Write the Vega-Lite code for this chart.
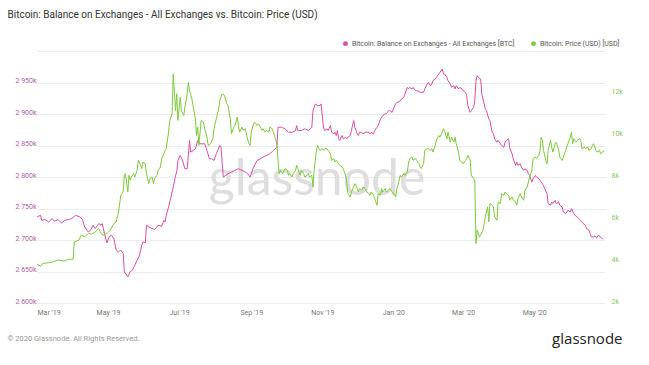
{
  "$schema": "https://vega.github.io/schema/vega-lite/v6.json",
  "width": 568,
  "height": 252,
  "autosize": "none",
  "padding": {"left": 37, "top": 51, "right": 44, "bottom": 62},
  "background": "white",
  "config": {"font": "Roboto", "view": {"stroke": null}},
  "datasets": {
    "bal": [
      {"date": "2019-03-01", "btc": 2736600}, {"date": "2019-03-04", "btc": 2739200}, {"date": "2019-03-05", "btc": 2731300},
      {"date": "2019-03-08", "btc": 2732400}, {"date": "2019-03-11", "btc": 2728600}, {"date": "2019-03-14", "btc": 2734000},
      {"date": "2019-03-16", "btc": 2729700}, {"date": "2019-03-19", "btc": 2732400}, {"date": "2019-03-22", "btc": 2727100},
      {"date": "2019-03-25", "btc": 2731300}, {"date": "2019-03-28", "btc": 2732400}, {"date": "2019-03-31", "btc": 2734000},
      {"date": "2019-04-03", "btc": 2739200}, {"date": "2019-04-07", "btc": 2736600}, {"date": "2019-04-09", "btc": 2732400},
      {"date": "2019-04-11", "btc": 2720700}, {"date": "2019-04-14", "btc": 2712800}, {"date": "2019-04-16", "btc": 2715500},
      {"date": "2019-04-18", "btc": 2723400}, {"date": "2019-04-20", "btc": 2718200}, {"date": "2019-04-23", "btc": 2726100},
      {"date": "2019-04-25", "btc": 2723400}, {"date": "2019-04-26", "btc": 2726100}, {"date": "2019-04-28", "btc": 2710300},
      {"date": "2019-04-30", "btc": 2695400}, {"date": "2019-05-02", "btc": 2704900}, {"date": "2019-05-04", "btc": 2707600},
      {"date": "2019-05-06", "btc": 2702400}, {"date": "2019-05-08", "btc": 2683900}, {"date": "2019-05-10", "btc": 2681200},
      {"date": "2019-05-12", "btc": 2683900}, {"date": "2019-05-14", "btc": 2678600}, {"date": "2019-05-15", "btc": 2649500},
      {"date": "2019-05-17", "btc": 2644300}, {"date": "2019-05-18", "btc": 2641600}, {"date": "2019-05-20", "btc": 2649500},
      {"date": "2019-05-22", "btc": 2652200}, {"date": "2019-05-24", "btc": 2660100}, {"date": "2019-05-26", "btc": 2668000},
      {"date": "2019-05-28", "btc": 2675900}, {"date": "2019-05-30", "btc": 2691800}, {"date": "2019-05-31", "btc": 2697000},
      {"date": "2019-06-02", "btc": 2695400}, {"date": "2019-06-03", "btc": 2723400}, {"date": "2019-06-05", "btc": 2720700},
      {"date": "2019-06-08", "btc": 2718200}, {"date": "2019-06-10", "btc": 2716600}, {"date": "2019-06-13", "btc": 2723400},
      {"date": "2019-06-16", "btc": 2721800}, {"date": "2019-06-18", "btc": 2731300}, {"date": "2019-06-19", "btc": 2728600},
      {"date": "2019-06-20", "btc": 2739200}, {"date": "2019-06-22", "btc": 2752400}, {"date": "2019-06-24", "btc": 2768200},
      {"date": "2019-06-26", "btc": 2784000}, {"date": "2019-06-28", "btc": 2802500}, {"date": "2019-06-29", "btc": 2807800},
      {"date": "2019-06-30", "btc": 2826300}, {"date": "2019-07-02", "btc": 2834200}, {"date": "2019-07-04", "btc": 2826300},
      {"date": "2019-07-06", "btc": 2813100}, {"date": "2019-07-08", "btc": 2813100}, {"date": "2019-07-10", "btc": 2857900},
      {"date": "2019-07-11", "btc": 2839400}, {"date": "2019-07-13", "btc": 2842100}, {"date": "2019-07-15", "btc": 2844800},
      {"date": "2019-07-17", "btc": 2857900}, {"date": "2019-07-19", "btc": 2852700}, {"date": "2019-07-21", "btc": 2852700},
      {"date": "2019-07-23", "btc": 2852700}, {"date": "2019-07-25", "btc": 2842100}, {"date": "2019-07-27", "btc": 2829000},
      {"date": "2019-07-29", "btc": 2829000}, {"date": "2019-07-31", "btc": 2826300}, {"date": "2019-08-02", "btc": 2836900},
      {"date": "2019-08-05", "btc": 2850000}, {"date": "2019-08-06", "btc": 2847300}, {"date": "2019-08-08", "btc": 2799800},
      {"date": "2019-08-10", "btc": 2802500}, {"date": "2019-08-12", "btc": 2805200}, {"date": "2019-08-15", "btc": 2807800},
      {"date": "2019-08-18", "btc": 2810400}, {"date": "2019-08-21", "btc": 2813100}, {"date": "2019-08-24", "btc": 2810400},
      {"date": "2019-08-27", "btc": 2807800}, {"date": "2019-08-29", "btc": 2805200}, {"date": "2019-08-31", "btc": 2799800},
      {"date": "2019-09-01", "btc": 2805200}, {"date": "2019-09-03", "btc": 2815700}, {"date": "2019-09-06", "btc": 2826300},
      {"date": "2019-09-09", "btc": 2829000}, {"date": "2019-09-11", "btc": 2831500}, {"date": "2019-09-14", "btc": 2834200},
      {"date": "2019-09-17", "btc": 2836900}, {"date": "2019-09-20", "btc": 2842100}, {"date": "2019-09-23", "btc": 2847300},
      {"date": "2019-09-24", "btc": 2879000}, {"date": "2019-09-27", "btc": 2879000}, {"date": "2019-09-30", "btc": 2876400},
      {"date": "2019-10-03", "btc": 2871000}, {"date": "2019-10-06", "btc": 2871000}, {"date": "2019-10-09", "btc": 2873700},
      {"date": "2019-10-10", "btc": 2881600}, {"date": "2019-10-11", "btc": 2873700}, {"date": "2019-10-14", "btc": 2873700},
      {"date": "2019-10-17", "btc": 2876400}, {"date": "2019-10-20", "btc": 2873700}, {"date": "2019-10-23", "btc": 2879000},
      {"date": "2019-10-24", "btc": 2905400}, {"date": "2019-10-26", "btc": 2916000}, {"date": "2019-10-28", "btc": 2913300},
      {"date": "2019-10-30", "btc": 2913300}, {"date": "2019-10-31", "btc": 2916000}, {"date": "2019-11-02", "btc": 2879000},
      {"date": "2019-11-03", "btc": 2873700}, {"date": "2019-11-05", "btc": 2876400}, {"date": "2019-11-06", "btc": 2873700},
      {"date": "2019-11-08", "btc": 2881600}, {"date": "2019-11-09", "btc": 2871000}, {"date": "2019-11-11", "btc": 2868500},
      {"date": "2019-11-12", "btc": 2871000}, {"date": "2019-11-13", "btc": 2865800}, {"date": "2019-11-14", "btc": 2873700},
      {"date": "2019-11-15", "btc": 2860600}, {"date": "2019-11-16", "btc": 2857900}, {"date": "2019-11-18", "btc": 2865800},
      {"date": "2019-11-19", "btc": 2860600}, {"date": "2019-11-21", "btc": 2863100}, {"date": "2019-11-22", "btc": 2860600},
      {"date": "2019-11-23", "btc": 2863100}, {"date": "2019-11-25", "btc": 2865800}, {"date": "2019-11-26", "btc": 2873700},
      {"date": "2019-11-28", "btc": 2889600}, {"date": "2019-11-29", "btc": 2879000}, {"date": "2019-12-01", "btc": 2868500},
      {"date": "2019-12-02", "btc": 2865800}, {"date": "2019-12-03", "btc": 2871000}, {"date": "2019-12-05", "btc": 2871000},
      {"date": "2019-12-06", "btc": 2868500}, {"date": "2019-12-08", "btc": 2871000}, {"date": "2019-12-11", "btc": 2871000},
      {"date": "2019-12-12", "btc": 2868500}, {"date": "2019-12-13", "btc": 2871000}, {"date": "2019-12-15", "btc": 2868500},
      {"date": "2019-12-16", "btc": 2873700}, {"date": "2019-12-18", "btc": 2879000}, {"date": "2019-12-19", "btc": 2881600},
      {"date": "2019-12-21", "btc": 2892200}, {"date": "2019-12-22", "btc": 2894800}, {"date": "2019-12-23", "btc": 2897500},
      {"date": "2019-12-25", "btc": 2900200}, {"date": "2019-12-26", "btc": 2900200}, {"date": "2019-12-28", "btc": 2905400},
      {"date": "2019-12-29", "btc": 2905400}, {"date": "2019-12-31", "btc": 2902700}, {"date": "2020-01-01", "btc": 2908100},
      {"date": "2020-01-03", "btc": 2916000}, {"date": "2020-01-04", "btc": 2918500}, {"date": "2020-01-05", "btc": 2918500},
      {"date": "2020-01-07", "btc": 2921200}, {"date": "2020-01-08", "btc": 2923900}, {"date": "2020-01-10", "btc": 2926400},
      {"date": "2020-01-11", "btc": 2931800}, {"date": "2020-01-13", "btc": 2942300}, {"date": "2020-01-14", "btc": 2939700},
      {"date": "2020-01-15", "btc": 2942300}, {"date": "2020-01-17", "btc": 2939700}, {"date": "2020-01-18", "btc": 2942300},
      {"date": "2020-01-20", "btc": 2937000}, {"date": "2020-01-21", "btc": 2937000}, {"date": "2020-01-23", "btc": 2935900},
      {"date": "2020-01-24", "btc": 2934300}, {"date": "2020-01-25", "btc": 2934300}, {"date": "2020-01-27", "btc": 2934300},
      {"date": "2020-01-28", "btc": 2939700}, {"date": "2020-01-30", "btc": 2947600}, {"date": "2020-01-31", "btc": 2950200},
      {"date": "2020-02-02", "btc": 2944900}, {"date": "2020-02-03", "btc": 2947600}, {"date": "2020-02-04", "btc": 2952800},
      {"date": "2020-02-06", "btc": 2955500}, {"date": "2020-02-07", "btc": 2958100}, {"date": "2020-02-09", "btc": 2963400},
      {"date": "2020-02-10", "btc": 2966000}, {"date": "2020-02-12", "btc": 2971400}, {"date": "2020-02-13", "btc": 2963400},
      {"date": "2020-02-14", "btc": 2963400}, {"date": "2020-02-16", "btc": 2958100}, {"date": "2020-02-17", "btc": 2952800},
      {"date": "2020-02-19", "btc": 2947600}, {"date": "2020-02-20", "btc": 2942300}, {"date": "2020-02-22", "btc": 2944900},
      {"date": "2020-02-23", "btc": 2939700}, {"date": "2020-02-24", "btc": 2944900}, {"date": "2020-02-26", "btc": 2939700},
      {"date": "2020-02-27", "btc": 2942300}, {"date": "2020-02-29", "btc": 2939700}, {"date": "2020-03-01", "btc": 2937000},
      {"date": "2020-03-03", "btc": 2934300}, {"date": "2020-03-04", "btc": 2929100}, {"date": "2020-03-05", "btc": 2913300},
      {"date": "2020-03-07", "btc": 2902700}, {"date": "2020-03-08", "btc": 2905400}, {"date": "2020-03-10", "btc": 2910600},
      {"date": "2020-03-11", "btc": 2921200}, {"date": "2020-03-12", "btc": 2952800}, {"date": "2020-03-13", "btc": 2960800},
      {"date": "2020-03-14", "btc": 2958100}, {"date": "2020-03-16", "btc": 2955500}, {"date": "2020-03-17", "btc": 2931800},
      {"date": "2020-03-18", "btc": 2923900}, {"date": "2020-03-20", "btc": 2908100}, {"date": "2020-03-21", "btc": 2905400},
      {"date": "2020-03-23", "btc": 2892200}, {"date": "2020-03-24", "btc": 2889600}, {"date": "2020-03-25", "btc": 2879000},
      {"date": "2020-03-26", "btc": 2871000}, {"date": "2020-03-27", "btc": 2868500}, {"date": "2020-03-28", "btc": 2860600},
      {"date": "2020-03-30", "btc": 2855200}, {"date": "2020-03-31", "btc": 2857900}, {"date": "2020-04-02", "btc": 2852700},
      {"date": "2020-04-03", "btc": 2850000}, {"date": "2020-04-05", "btc": 2847300}, {"date": "2020-04-06", "btc": 2855200},
      {"date": "2020-04-07", "btc": 2857900}, {"date": "2020-04-09", "btc": 2860600}, {"date": "2020-04-10", "btc": 2846000},
      {"date": "2020-04-12", "btc": 2836900}, {"date": "2020-04-13", "btc": 2829000}, {"date": "2020-04-15", "btc": 2818400},
      {"date": "2020-04-16", "btc": 2823600}, {"date": "2020-04-17", "btc": 2818400}, {"date": "2020-04-19", "btc": 2821000},
      {"date": "2020-04-20", "btc": 2815700}, {"date": "2020-04-22", "btc": 2810400}, {"date": "2020-04-23", "btc": 2813100},
      {"date": "2020-04-25", "btc": 2810400}, {"date": "2020-04-26", "btc": 2805200}, {"date": "2020-04-27", "btc": 2802500},
      {"date": "2020-04-29", "btc": 2791900}, {"date": "2020-04-30", "btc": 2797300}, {"date": "2020-05-02", "btc": 2802500},
      {"date": "2020-05-03", "btc": 2799800}, {"date": "2020-05-05", "btc": 2797300}, {"date": "2020-05-06", "btc": 2794600},
      {"date": "2020-05-07", "btc": 2791900}, {"date": "2020-05-09", "btc": 2786700}, {"date": "2020-05-10", "btc": 2781500},
      {"date": "2020-05-12", "btc": 2773600}, {"date": "2020-05-13", "btc": 2757800}, {"date": "2020-05-15", "btc": 2755100},
      {"date": "2020-05-16", "btc": 2760300}, {"date": "2020-05-17", "btc": 2757800}, {"date": "2020-05-19", "btc": 2763000},
      {"date": "2020-05-20", "btc": 2757800}, {"date": "2020-05-22", "btc": 2760300}, {"date": "2020-05-23", "btc": 2755100},
      {"date": "2020-05-25", "btc": 2752400}, {"date": "2020-05-26", "btc": 2744500}, {"date": "2020-05-28", "btc": 2741900},
      {"date": "2020-05-29", "btc": 2744500}, {"date": "2020-05-30", "btc": 2747200}, {"date": "2020-06-01", "btc": 2744500},
      {"date": "2020-06-02", "btc": 2749800}, {"date": "2020-06-04", "btc": 2741900}, {"date": "2020-06-05", "btc": 2739200},
      {"date": "2020-06-07", "btc": 2736600}, {"date": "2020-06-08", "btc": 2734000}, {"date": "2020-06-09", "btc": 2731300},
      {"date": "2020-06-11", "btc": 2728600}, {"date": "2020-06-12", "btc": 2726100}, {"date": "2020-06-14", "btc": 2723400},
      {"date": "2020-06-15", "btc": 2718200}, {"date": "2020-06-17", "btc": 2715500}, {"date": "2020-06-18", "btc": 2710300},
      {"date": "2020-06-19", "btc": 2704900}, {"date": "2020-06-21", "btc": 2704900}, {"date": "2020-06-22", "btc": 2706000},
      {"date": "2020-06-24", "btc": 2704000}, {"date": "2020-06-25", "btc": 2707600}, {"date": "2020-06-27", "btc": 2704900},
      {"date": "2020-06-28", "btc": 2702400}, {"date": "2020-06-29", "btc": 2701300}
    ],
    "px": [
      {"date": "2019-03-01", "usd": 3852}, {"date": "2019-03-04", "usd": 3758}, {"date": "2019-03-06", "usd": 3886},
      {"date": "2019-03-11", "usd": 3914}, {"date": "2019-03-15", "usd": 3962}, {"date": "2019-03-19", "usd": 4043},
      {"date": "2019-03-24", "usd": 3995}, {"date": "2019-03-28", "usd": 4076}, {"date": "2019-04-01", "usd": 4090},
      {"date": "2019-04-02", "usd": 4912}, {"date": "2019-04-06", "usd": 4993}, {"date": "2019-04-08", "usd": 5230},
      {"date": "2019-04-11", "usd": 5149}, {"date": "2019-04-14", "usd": 5311}, {"date": "2019-04-17", "usd": 5278},
      {"date": "2019-04-20", "usd": 5387}, {"date": "2019-04-23", "usd": 5548}, {"date": "2019-04-25", "usd": 5311},
      {"date": "2019-04-27", "usd": 5230}, {"date": "2019-04-30", "usd": 5311}, {"date": "2019-05-03", "usd": 5468},
      {"date": "2019-05-06", "usd": 5786}, {"date": "2019-05-08", "usd": 5862}, {"date": "2019-05-10", "usd": 6337},
      {"date": "2019-05-12", "usd": 7130}, {"date": "2019-05-14", "usd": 7287}, {"date": "2019-05-15", "usd": 8080},
      {"date": "2019-05-16", "usd": 8161}, {"date": "2019-05-18", "usd": 7287}, {"date": "2019-05-19", "usd": 8080},
      {"date": "2019-05-20", "usd": 7843}, {"date": "2019-05-21", "usd": 7999}, {"date": "2019-05-23", "usd": 8161},
      {"date": "2019-05-24", "usd": 7999}, {"date": "2019-05-26", "usd": 8318}, {"date": "2019-05-27", "usd": 8793},
      {"date": "2019-05-29", "usd": 8555}, {"date": "2019-05-30", "usd": 8398}, {"date": "2019-05-31", "usd": 8712},
      {"date": "2019-06-02", "usd": 8636}, {"date": "2019-06-03", "usd": 8161}, {"date": "2019-06-05", "usd": 7686},
      {"date": "2019-06-06", "usd": 7923}, {"date": "2019-06-08", "usd": 7999}, {"date": "2019-06-09", "usd": 7686},
      {"date": "2019-06-10", "usd": 7923}, {"date": "2019-06-12", "usd": 8080}, {"date": "2019-06-13", "usd": 8318},
      {"date": "2019-06-15", "usd": 8474}, {"date": "2019-06-16", "usd": 8873}, {"date": "2019-06-18", "usd": 9111},
      {"date": "2019-06-19", "usd": 9268}, {"date": "2019-06-20", "usd": 9348}, {"date": "2019-06-22", "usd": 10137},
      {"date": "2019-06-23", "usd": 10693}, {"date": "2019-06-25", "usd": 11011}, {"date": "2019-06-26", "usd": 12911},
      {"date": "2019-06-28", "usd": 11168}, {"date": "2019-06-29", "usd": 11961}, {"date": "2019-06-30", "usd": 10693},
      {"date": "2019-07-02", "usd": 11799}, {"date": "2019-07-03", "usd": 11168}, {"date": "2019-07-05", "usd": 10930},
      {"date": "2019-07-06", "usd": 11324}, {"date": "2019-07-08", "usd": 11961}, {"date": "2019-07-09", "usd": 12512},
      {"date": "2019-07-10", "usd": 12118}, {"date": "2019-07-12", "usd": 11723}, {"date": "2019-07-13", "usd": 11405},
      {"date": "2019-07-15", "usd": 10773}, {"date": "2019-07-16", "usd": 9980}, {"date": "2019-07-17", "usd": 10374},
      {"date": "2019-07-18", "usd": 9505}, {"date": "2019-07-20", "usd": 10693}, {"date": "2019-07-22", "usd": 10612},
      {"date": "2019-07-23", "usd": 10298}, {"date": "2019-07-25", "usd": 9899}, {"date": "2019-07-26", "usd": 9505},
      {"date": "2019-07-28", "usd": 9586}, {"date": "2019-07-30", "usd": 9823}, {"date": "2019-07-31", "usd": 10298},
      {"date": "2019-08-02", "usd": 10773}, {"date": "2019-08-04", "usd": 11248}, {"date": "2019-08-05", "usd": 11643},
      {"date": "2019-08-07", "usd": 11961}, {"date": "2019-08-09", "usd": 11880}, {"date": "2019-08-11", "usd": 11486},
      {"date": "2019-08-12", "usd": 11405}, {"date": "2019-08-14", "usd": 10773}, {"date": "2019-08-15", "usd": 10061},
      {"date": "2019-08-17", "usd": 10374}, {"date": "2019-08-18", "usd": 10455}, {"date": "2019-08-20", "usd": 10849},
      {"date": "2019-08-21", "usd": 10455}, {"date": "2019-08-22", "usd": 10137}, {"date": "2019-08-24", "usd": 10374},
      {"date": "2019-08-25", "usd": 10218}, {"date": "2019-08-27", "usd": 10298}, {"date": "2019-08-28", "usd": 9980},
      {"date": "2019-08-30", "usd": 9586}, {"date": "2019-08-31", "usd": 9505}, {"date": "2019-09-01", "usd": 10137},
      {"date": "2019-09-03", "usd": 10536}, {"date": "2019-09-04", "usd": 10612}, {"date": "2019-09-06", "usd": 10455},
      {"date": "2019-09-07", "usd": 10536}, {"date": "2019-09-09", "usd": 10374}, {"date": "2019-09-10", "usd": 10218},
      {"date": "2019-09-11", "usd": 10298}, {"date": "2019-09-13", "usd": 10137}, {"date": "2019-09-14", "usd": 10218},
      {"date": "2019-09-16", "usd": 10137}, {"date": "2019-09-17", "usd": 10374}, {"date": "2019-09-19", "usd": 10298},
      {"date": "2019-09-20", "usd": 10137}, {"date": "2019-09-21", "usd": 9980}, {"date": "2019-09-23", "usd": 9586},
      {"date": "2019-09-24", "usd": 8793}, {"date": "2019-09-25", "usd": 8161}, {"date": "2019-09-26", "usd": 8318},
      {"date": "2019-09-28", "usd": 8161}, {"date": "2019-09-30", "usd": 8398}, {"date": "2019-10-02", "usd": 8318},
      {"date": "2019-10-03", "usd": 8080}, {"date": "2019-10-04", "usd": 8161}, {"date": "2019-10-06", "usd": 7999},
      {"date": "2019-10-07", "usd": 8161}, {"date": "2019-10-09", "usd": 8318}, {"date": "2019-10-10", "usd": 8555},
      {"date": "2019-10-11", "usd": 8398}, {"date": "2019-10-13", "usd": 8080}, {"date": "2019-10-14", "usd": 8318},
      {"date": "2019-10-16", "usd": 8161}, {"date": "2019-10-17", "usd": 7999}, {"date": "2019-10-19", "usd": 8080},
      {"date": "2019-10-20", "usd": 8161}, {"date": "2019-10-21", "usd": 7999}, {"date": "2019-10-23", "usd": 8080},
      {"date": "2019-10-24", "usd": 7524}, {"date": "2019-10-25", "usd": 8318}, {"date": "2019-10-27", "usd": 9268},
      {"date": "2019-10-28", "usd": 9505}, {"date": "2019-10-29", "usd": 9348}, {"date": "2019-10-30", "usd": 9268},
      {"date": "2019-11-01", "usd": 9348}, {"date": "2019-11-02", "usd": 9268}, {"date": "2019-11-03", "usd": 9348},
      {"date": "2019-11-05", "usd": 9348}, {"date": "2019-11-06", "usd": 9268}, {"date": "2019-11-08", "usd": 9111},
      {"date": "2019-11-09", "usd": 8793}, {"date": "2019-11-11", "usd": 8873}, {"date": "2019-11-12", "usd": 8712},
      {"date": "2019-11-13", "usd": 8793}, {"date": "2019-11-15", "usd": 8636}, {"date": "2019-11-16", "usd": 8555},
      {"date": "2019-11-18", "usd": 8474}, {"date": "2019-11-19", "usd": 8398}, {"date": "2019-11-21", "usd": 8080},
      {"date": "2019-11-22", "usd": 7762}, {"date": "2019-11-23", "usd": 7211}, {"date": "2019-11-25", "usd": 7049},
      {"date": "2019-11-26", "usd": 7287}, {"date": "2019-11-28", "usd": 7524}, {"date": "2019-11-29", "usd": 7686},
      {"date": "2019-12-01", "usd": 7448}, {"date": "2019-12-02", "usd": 7287}, {"date": "2019-12-03", "usd": 7448},
      {"date": "2019-12-05", "usd": 7368}, {"date": "2019-12-06", "usd": 7524}, {"date": "2019-12-08", "usd": 7448},
      {"date": "2019-12-09", "usd": 7287}, {"date": "2019-12-11", "usd": 7211}, {"date": "2019-12-12", "usd": 7130},
      {"date": "2019-12-13", "usd": 7287}, {"date": "2019-12-15", "usd": 7130}, {"date": "2019-12-16", "usd": 6973},
      {"date": "2019-12-18", "usd": 6655}, {"date": "2019-12-19", "usd": 7211}, {"date": "2019-12-21", "usd": 7130},
      {"date": "2019-12-22", "usd": 7448}, {"date": "2019-12-23", "usd": 7287}, {"date": "2019-12-25", "usd": 7448},
      {"date": "2019-12-26", "usd": 7287}, {"date": "2019-12-28", "usd": 7368}, {"date": "2019-12-29", "usd": 7448},
      {"date": "2019-12-31", "usd": 7287}, {"date": "2020-01-01", "usd": 7211}, {"date": "2020-01-03", "usd": 7049},
      {"date": "2020-01-04", "usd": 7448}, {"date": "2020-01-05", "usd": 7605}, {"date": "2020-01-07", "usd": 8080},
      {"date": "2020-01-08", "usd": 7999}, {"date": "2020-01-10", "usd": 8161}, {"date": "2020-01-11", "usd": 8080},
      {"date": "2020-01-13", "usd": 8237}, {"date": "2020-01-14", "usd": 8636}, {"date": "2020-01-15", "usd": 8873},
      {"date": "2020-01-17", "usd": 8949}, {"date": "2020-01-18", "usd": 8793}, {"date": "2020-01-20", "usd": 8873},
      {"date": "2020-01-21", "usd": 8793}, {"date": "2020-01-23", "usd": 8636}, {"date": "2020-01-24", "usd": 8474},
      {"date": "2020-01-25", "usd": 8398}, {"date": "2020-01-27", "usd": 8636}, {"date": "2020-01-28", "usd": 9268},
      {"date": "2020-01-30", "usd": 9348}, {"date": "2020-01-31", "usd": 9348}, {"date": "2020-02-02", "usd": 9268},
      {"date": "2020-02-03", "usd": 9348}, {"date": "2020-02-04", "usd": 9187}, {"date": "2020-02-06", "usd": 9505},
      {"date": "2020-02-07", "usd": 9743}, {"date": "2020-02-09", "usd": 9980}, {"date": "2020-02-10", "usd": 9899},
      {"date": "2020-02-12", "usd": 10137}, {"date": "2020-02-13", "usd": 10298}, {"date": "2020-02-14", "usd": 10218},
      {"date": "2020-02-16", "usd": 9823}, {"date": "2020-02-17", "usd": 10137}, {"date": "2020-02-19", "usd": 9662},
      {"date": "2020-02-20", "usd": 9899}, {"date": "2020-02-22", "usd": 9662}, {"date": "2020-02-23", "usd": 9899},
      {"date": "2020-02-24", "usd": 9586}, {"date": "2020-02-26", "usd": 9187}, {"date": "2020-02-27", "usd": 8793},
      {"date": "2020-02-29", "usd": 8712}, {"date": "2020-03-01", "usd": 8636}, {"date": "2020-03-03", "usd": 8793},
      {"date": "2020-03-04", "usd": 8873}, {"date": "2020-03-05", "usd": 9030}, {"date": "2020-03-07", "usd": 8793},
      {"date": "2020-03-08", "usd": 8080}, {"date": "2020-03-10", "usd": 7923}, {"date": "2020-03-11", "usd": 7843},
      {"date": "2020-03-12", "usd": 4836}, {"date": "2020-03-13", "usd": 5468}, {"date": "2020-03-15", "usd": 5149},
      {"date": "2020-03-16", "usd": 5230}, {"date": "2020-03-18", "usd": 5468}, {"date": "2020-03-19", "usd": 5786},
      {"date": "2020-03-20", "usd": 6099}, {"date": "2020-03-22", "usd": 6574}, {"date": "2020-03-23", "usd": 5862},
      {"date": "2020-03-24", "usd": 6736}, {"date": "2020-03-26", "usd": 6655}, {"date": "2020-03-27", "usd": 6574},
      {"date": "2020-03-28", "usd": 6099}, {"date": "2020-03-30", "usd": 5943}, {"date": "2020-03-31", "usd": 6812},
      {"date": "2020-04-02", "usd": 6736}, {"date": "2020-04-03", "usd": 7211}, {"date": "2020-04-05", "usd": 7130},
      {"date": "2020-04-06", "usd": 7287}, {"date": "2020-04-07", "usd": 7211}, {"date": "2020-04-09", "usd": 7130},
      {"date": "2020-04-10", "usd": 6893}, {"date": "2020-04-12", "usd": 7049}, {"date": "2020-04-13", "usd": 6893},
      {"date": "2020-04-15", "usd": 6812}, {"date": "2020-04-16", "usd": 6655}, {"date": "2020-04-17", "usd": 6973},
      {"date": "2020-04-19", "usd": 7211}, {"date": "2020-04-20", "usd": 7049}, {"date": "2020-04-22", "usd": 6893},
      {"date": "2020-04-23", "usd": 7368}, {"date": "2020-04-25", "usd": 7524}, {"date": "2020-04-26", "usd": 7762},
      {"date": "2020-04-27", "usd": 7999}, {"date": "2020-04-29", "usd": 8318}, {"date": "2020-04-30", "usd": 8873},
      {"date": "2020-05-02", "usd": 8949}, {"date": "2020-05-03", "usd": 8873}, {"date": "2020-05-05", "usd": 9030},
      {"date": "2020-05-06", "usd": 9268}, {"date": "2020-05-07", "usd": 9899}, {"date": "2020-05-08", "usd": 9743},
      {"date": "2020-05-09", "usd": 9268}, {"date": "2020-05-11", "usd": 8793}, {"date": "2020-05-12", "usd": 8636},
      {"date": "2020-05-13", "usd": 9268}, {"date": "2020-05-15", "usd": 9743}, {"date": "2020-05-16", "usd": 9424},
      {"date": "2020-05-17", "usd": 9187}, {"date": "2020-05-19", "usd": 9586}, {"date": "2020-05-20", "usd": 9662},
      {"date": "2020-05-22", "usd": 9268}, {"date": "2020-05-23", "usd": 8949}, {"date": "2020-05-25", "usd": 8793},
      {"date": "2020-05-26", "usd": 8949}, {"date": "2020-05-28", "usd": 9268}, {"date": "2020-05-29", "usd": 9424},
      {"date": "2020-05-30", "usd": 9586}, {"date": "2020-06-01", "usd": 9899}, {"date": "2020-06-02", "usd": 10137},
      {"date": "2020-06-03", "usd": 9586}, {"date": "2020-06-04", "usd": 9823}, {"date": "2020-06-06", "usd": 9662},
      {"date": "2020-06-07", "usd": 9743}, {"date": "2020-06-09", "usd": 9823}, {"date": "2020-06-10", "usd": 9743},
      {"date": "2020-06-11", "usd": 9348}, {"date": "2020-06-13", "usd": 9424}, {"date": "2020-06-14", "usd": 9348},
      {"date": "2020-06-16", "usd": 9424}, {"date": "2020-06-17", "usd": 9268}, {"date": "2020-06-19", "usd": 9348},
      {"date": "2020-06-20", "usd": 9505}, {"date": "2020-06-21", "usd": 9586}, {"date": "2020-06-23", "usd": 9268},
      {"date": "2020-06-24", "usd": 9187}, {"date": "2020-06-26", "usd": 9268}, {"date": "2020-06-27", "usd": 9111},
      {"date": "2020-06-29", "usd": 9187}, {"date": "2020-06-30", "usd": 9268}
    ]
  },
  "layer": [
    {
      "data": {"values": [{}]},
      "mark": {"type": "text", "fontSize": 50, "font": "Lato", "color": "#dedede", "align": "center", "baseline": "alphabetic"},
      "encoding": {
        "x": {"datum": {"year": 2019, "month": 10, "date": 27, "hours": 14, "utc": true}, "type": "temporal", "axis": null,
              "scale": {"type": "utc", "domain": [{"year": 2019, "month": 3, "date": 1, "utc": true}, {"year": 2020, "month": 6, "date": 30, "hours": 19, "utc": true}]}},
        "y": {"datum": 2772000, "type": "quantitative", "axis": null, "scale": {"domain": [2600000, 3000000], "nice": false, "zero": false}},
        "text": {"value": "glassnode"}
      }
    },
    {
      "data": {"name": "bal"},
      "mark": {"type": "line", "strokeWidth": 1, "clip": true},
      "encoding": {
        "x": {"field": "date", "type": "temporal",
              "scale": {"type": "utc", "domain": [{"year": 2019, "month": 3, "date": 1, "utc": true}, {"year": 2020, "month": 6, "date": 30, "hours": 19, "utc": true}]},
              "axis": {"orient": "bottom",
                       "values": [{"year": 2019, "month": 3, "date": 1, "utc": true}, {"year": 2019, "month": 5, "date": 1, "utc": true}, {"year": 2019, "month": 7, "date": 1, "utc": true}, {"year": 2019, "month": 9, "date": 1, "utc": true}, {"year": 2019, "month": 11, "date": 1, "utc": true}, {"year": 2020, "month": 1, "date": 1, "utc": true}, {"year": 2020, "month": 3, "date": 1, "utc": true}, {"year": 2020, "month": 5, "date": 1, "utc": true}],
                       "labelExpr": "utcFormat(datum.value, \"%b '%y\")",
                       "grid": false, "domain": false, "ticks": false, "labelFlush": 5, "labelPadding": 5,
                       "labelFontSize": 7, "labelColor": "#777777", "labelFont": "Roboto",
                       "title": "© 2020 Glassnode. All Rights Reserved.", "titleX": -30, "titleY": 35, "titleAlign": "left", "titleAnchor": null,
                       "titleBaseline": "middle", "titleFontSize": 7.5, "titleFontWeight": "normal", "titleColor": "#999999", "titleFont": "Roboto"}},
        "y": {"field": "btc", "type": "quantitative",
              "scale": {"domain": [2600000, 3000000], "nice": false, "zero": false},
              "axis": {"orient": "left", "values": [2600000, 2650000, 2700000, 2750000, 2800000, 2850000, 2900000, 2950000, 3000000],
                       "labelExpr": "datum.value >= 3000000 ? '' : replace(format(datum.value / 1000, ','), ',', ' ') + 'k'",
                       "grid": true, "gridColor": "#ececec", "gridWidth": 1, "domain": false, "ticks": false,
                       "labelPadding": 1, "labelFontSize": 7, "labelColor": "#a8609a", "labelBaseline": "alphabetic", "labelFont": "Roboto",
                       "title": null}},
        "color": {"datum": "Bitcoin: Balance on Exchanges - All Exchanges [BTC]", "type": "nominal",
                  "scale": {"domain": ["Bitcoin: Balance on Exchanges - All Exchanges [BTC]", "Bitcoin: Price (USD) [USD]"], "range": ["#d94fa4", "#7dc93a"]},
                  "legend": {"orient": "none", "legendX": 305, "legendY": -11, "direction": "horizontal", "title": null,
                             "symbolType": "circle", "symbolSize": 6, "symbolStrokeWidth": 2.5, "labelFontSize": 7, "labelColor": "#555555",
                             "labelFont": "Roboto", "labelLimit": 300, "columnPadding": 12, "labelOffset": 3}}
      }
    },
    {
      "data": {"name": "px"},
      "mark": {"type": "line", "strokeWidth": 1, "clip": true},
      "encoding": {
        "x": {"field": "date", "type": "temporal",
              "scale": {"type": "utc", "domain": [{"year": 2019, "month": 3, "date": 1, "utc": true}, {"year": 2020, "month": 6, "date": 30, "hours": 19, "utc": true}]},
              "axis": {"orient": "top", "labels": false, "ticks": false, "domain": false, "grid": false,
                       "title": "Bitcoin: Balance on Exchanges - All Exchanges vs. Bitcoin: Price (USD)",
                       "titleX": -30, "titleY": -37, "titleAlign": "left", "titleAnchor": null, "titleBaseline": "middle",
                       "titleFontSize": 10, "titleFontWeight": "normal", "titleColor": "#333333", "titleFont": "Roboto"}},
        "y": {"field": "usd", "type": "quantitative",
              "scale": {"domain": [2000, 14000], "nice": false, "zero": false},
              "axis": {"orient": "right", "values": [2000, 4000, 6000, 8000, 10000, 12000, 14000],
                       "labelExpr": "datum.value >= 14000 ? '' : format(datum.value / 1000, 'd') + 'k'",
                       "grid": false, "domain": false, "ticks": false, "labelPadding": 6, "labelFontSize": 7,
                       "labelColor": "#8cc45c", "labelBaseline": "alphabetic", "labelFont": "Roboto",
                       "title": "glassnode", "titleAngle": 0, "titleX": 17, "titleY": 287, "titleAlign": "right", "titleAnchor": null,
                       "titleBaseline": "middle", "titleFontSize": 15, "titleFontWeight": 500, "titleColor": "#222222", "titleFont": "Open Sans"}},
        "color": {"datum": "Bitcoin: Price (USD) [USD]", "type": "nominal"}
      }
    }
  ],
  "resolve": {"scale": {"y": "independent"}, "axis": {"x": "independent"}}
}
